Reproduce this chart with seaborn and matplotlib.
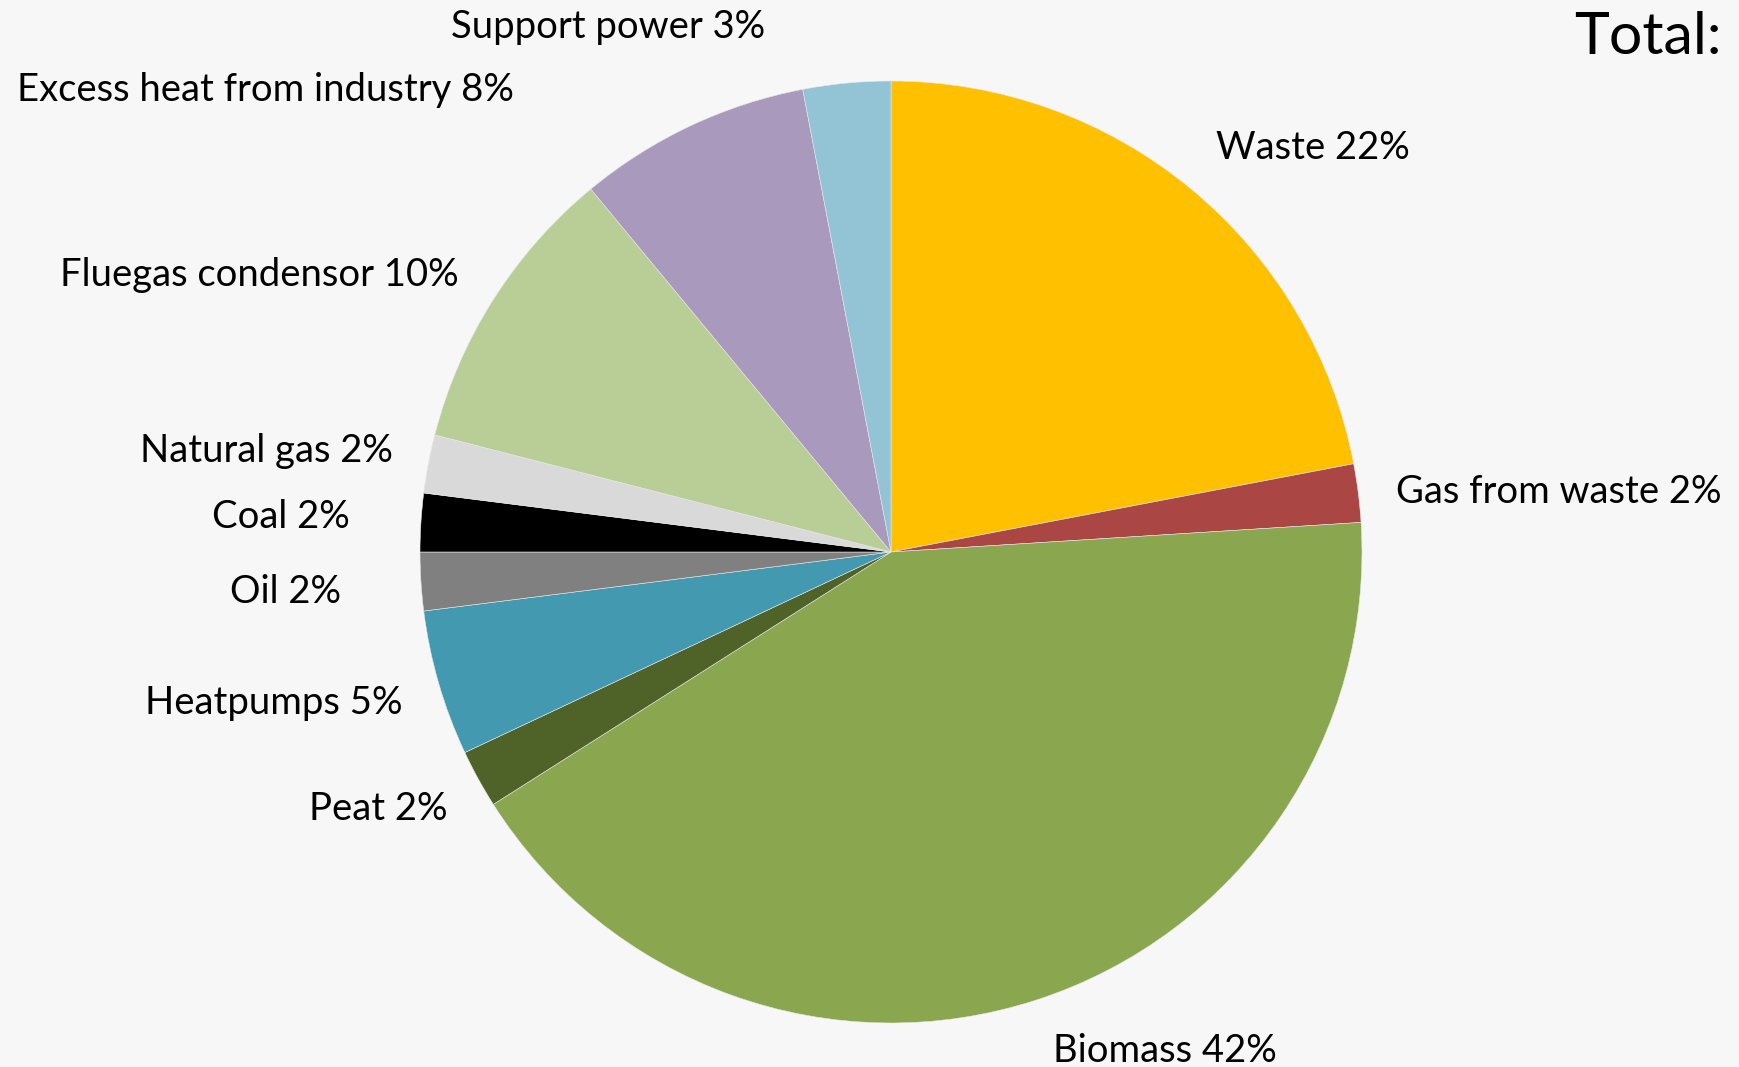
import matplotlib
matplotlib.use("Agg")
import matplotlib.pyplot as plt
import seaborn as sns

## energy sources for district heating, clockwise from 12 o'clock
sources = ["Waste", "Gas from waste", "Biomass", "Peat", "Heatpumps", "Oil",
           "Coal", "Natural gas", "Fluegas condensor", "Excess heat from industry",
           "Support power"]
shares = [22, 2, 42, 2, 5, 2, 2, 2, 10, 8, 3]
colors = ["#FFC000", "#AA4644", "#8AA64F", "#4F6228", "#4299B0", "#808080",
          "#000000", "#D9D9D9", "#B9CE96", "#A99ABD", "#93C4D5"]

## where each label sits (pixel coords of the figure, centre of text)
label_pos = [(1313, 148), (1559, 492), (1165, 1051), (378, 809), (274, 703),
             (286, 592), (281, 517), (266, 451), (259, 275), (265, 90), (608, 27)]

bg = "#F7F7F7"
sns.set_style("white", {"axes.facecolor": bg, "figure.facecolor": bg})
plt.rcParams["font.family"] = ["Lato", "DejaVu Sans"]

W, H = 1740, 1067
fig = plt.figure(figsize=(W / 100, H / 100), dpi=100)
ax = fig.add_axes([0, 0, 1, 1])

## pie in pixel space; y axis is flipped so go counterclockwise to look clockwise
wedges, _ = ax.pie(shares, colors=colors, startangle=-90, counterclock=True,
                   center=(891, 552), radius=471, frame=True,
                   wedgeprops=dict(linewidth=0.4, edgecolor="#E8E8E8"))
ax.set_xlim(0, W)
ax.set_ylim(H, 0)
ax.set_aspect("equal")
ax.axis("off")

for name, pct, (x, y) in zip(sources, shares, label_pos):
    ax.text(x, y, f"{name} {pct}%", ha="center", va="center", fontsize=27.5,
            color="black")

ax.text(1722, 37, "Total:", ha="right", va="center", fontsize=42.5, color="black")

fig.savefig("out.png", dpi=100, facecolor=bg)
